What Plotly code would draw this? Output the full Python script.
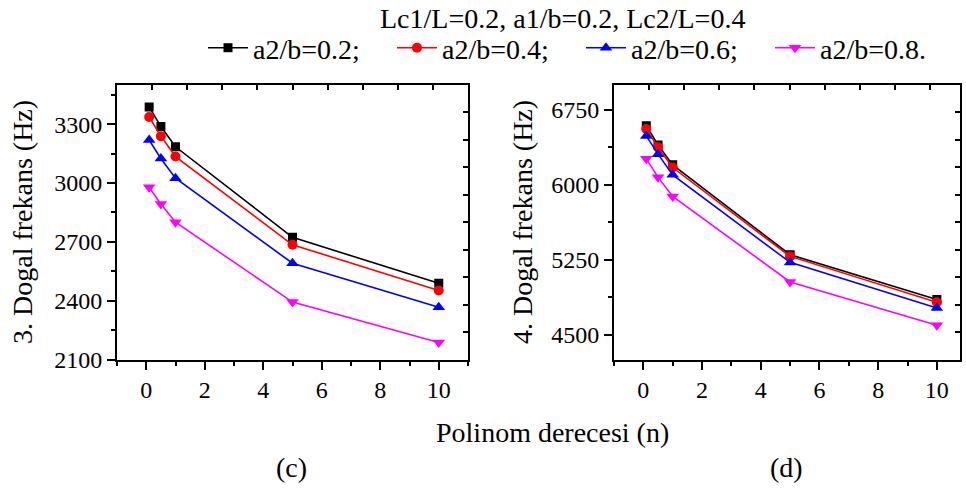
import plotly.graph_objects as go

# ---------------- data ----------------
n_values = [0.1, 0.5, 1, 5, 10]
series_names = ["a2/b=0.2;", "a2/b=0.4;", "a2/b=0.6;", "a2/b=0.8."]

freq3 = {
    "a2/b=0.2;": [3388, 3288, 3185, 2723, 2489],
    "a2/b=0.4;": [3337, 3239, 3135, 2685, 2452],
    "a2/b=0.6;": [3219, 3125, 3025, 2591, 2367],
    "a2/b=0.8.": [2978, 2893, 2800, 2393, 2187],
}
freq4 = {
    "a2/b=0.2;": [6593, 6400, 6200, 5300, 4850],
    "a2/b=0.4;": [6560, 6377, 6173, 5283, 4823],
    "a2/b=0.6;": [6490, 6307, 6100, 5223, 4767],
    "a2/b=0.8.": [6260, 6077, 5883, 5027, 4593],
}

colors = ["#000000", "#ff0000", "#0000ff", "#ff00ff"]
symbols = ["square", "circle", "triangle-up", "triangle-down"]
msizes = [9, 10, 11, 11]

title_text = "Lc1/L=0.2, a1/b=0.2, Lc2/L=0.4"
xtitle = "Polinom derecesi (n)"
ytitle_c = "3. Dogal frekans (Hz)"
ytitle_d = "4. Dogal frekans (Hz)"

FONT = "Liberation Serif, Times New Roman, serif"
FS_TICK = 24
FS = 28
W, H = 966, 492

fig = go.Figure()

for i, name in enumerate(series_names):
    fig.add_trace(go.Scatter(
        x=n_values, y=freq3[name], name=name, mode="lines+markers",
        line=dict(color=colors[i], width=1.6),
        marker=dict(symbol=symbols[i], size=msizes[i], color=colors[i]),
        xaxis="x", yaxis="y", legendgroup=name, showlegend=True))
for i, name in enumerate(series_names):
    fig.add_trace(go.Scatter(
        x=n_values, y=freq4[name], name=name, mode="lines+markers",
        line=dict(color=colors[i], width=1.6),
        marker=dict(symbol=symbols[i], size=msizes[i], color=colors[i]),
        xaxis="x2", yaxis="y2", legendgroup=name, showlegend=False))

# panel geometry (pixels)
L1, R1 = 117, 468
L2, R2 = 614, 960
TOP, BOT = 85, 359.5
ydom = [(H - BOT) / H, (H - TOP) / H]

tickfont = dict(family=FONT, size=FS_TICK, color="black")

def main_x(dom, rng, anchor):
    return dict(domain=dom, range=rng, anchor=anchor, showgrid=False, zeroline=False,
                showline=True, linecolor="black", linewidth=2, mirror=True,
                ticks="outside", ticklen=8, tickwidth=2, tickcolor="black",
                tick0=0, dtick=2, tickfont=tickfont, automargin=False,
                minor=dict(ticks="outside", ticklen=4, tickwidth=2, dtick=1, tickcolor="black"))

def main_y(rng, anchor, tick0, dtick):
    return dict(domain=ydom, range=rng, anchor=anchor, showgrid=False, zeroline=False,
                showline=True, linecolor="black", linewidth=2, mirror=True,
                ticks="outside", ticklen=8, tickwidth=2, tickcolor="black",
                tick0=tick0, dtick=dtick, tickfont=tickfont, automargin=False,
                minor=dict(ticks="outside", ticklen=4, tickwidth=2, dtick=dtick / 2, tickcolor="black"))

def deco(overlay, side, rng, anchor):
    return dict(overlaying=overlay, side=side, range=rng, anchor=anchor, showgrid=False,
                zeroline=False, showline=False, showticklabels=False, automargin=False,
                ticks="inside", ticklen=5, tickwidth=2, tickcolor="black", tick0=0, dtick=1)

fig.update_layout(
    width=W, height=H,
    margin=dict(l=0, r=0, t=0, b=0),
    paper_bgcolor="white", plot_bgcolor="white",
    font=dict(family=FONT, size=FS, color="black"),
    xaxis=main_x([L1 / W, R1 / W], [-1, 11], "y"),
    yaxis=main_y([2100, 3500], "x", 2100, 300),
    xaxis2=main_x([L2 / W, R2 / W], [-1, -1 + (R2 - L2) / 29.35], "y2"),
    yaxis2=main_y([4250, 7000], "x2", 4500, 750),
    xaxis3=deco("x", "top", [0, 10], "y"),
    yaxis3=deco("y", "right", [0, 10], "x"),
    xaxis4=deco("x2", "top", [0, (R2 - L2) / 35.1], "y2"),
    yaxis4=deco("y2", "right", [0, 10], "x2"),
    showlegend=True,
    legend=dict(orientation="h", x=203 / W, y=1 - 48 / H, xanchor="left", yanchor="middle",
                font=dict(family=FONT, size=FS, color="black"),
                bgcolor="rgba(0,0,0,0)", entrywidth=134, itemwidth=40,
                tracegroupgap=0),
)

annotations = [
    dict(text=title_text, x=562 / W, y=1 - 18 / H, xref="paper", yref="paper",
         showarrow=False, font=dict(family=FONT, size=FS), xanchor="center", yanchor="middle"),
    dict(text=xtitle, x=552 / W, y=1 - 432 / H, xref="paper", yref="paper",
         showarrow=False, font=dict(family=FONT, size=FS), xanchor="center", yanchor="middle"),
    dict(text="(c)", x=291 / W, y=1 - 467 / H, xref="paper", yref="paper",
         showarrow=False, font=dict(family=FONT, size=FS), xanchor="center", yanchor="middle"),
    dict(text="(d)", x=786 / W, y=1 - 467 / H, xref="paper", yref="paper",
         showarrow=False, font=dict(family=FONT, size=FS), xanchor="center", yanchor="middle"),
    dict(text=ytitle_c, x=23 / W, y=1 - 222 / H, xref="paper", yref="paper", textangle=-90,
         showarrow=False, font=dict(family=FONT, size=FS), xanchor="center", yanchor="middle"),
    dict(text=ytitle_d, x=523 / W, y=1 - 222 / H, xref="paper", yref="paper", textangle=-90,
         showarrow=False, font=dict(family=FONT, size=FS), xanchor="center", yanchor="middle"),
]
fig.update_layout(annotations=annotations)

# invisible traces on decoration axes so they render
fig.add_trace(go.Scatter(x=[None], y=[None], xaxis="x3", yaxis="y3", showlegend=False, hoverinfo="skip"))
fig.add_trace(go.Scatter(x=[None], y=[None], xaxis="x4", yaxis="y4", showlegend=False, hoverinfo="skip"))

fig.write_html("out.html")
